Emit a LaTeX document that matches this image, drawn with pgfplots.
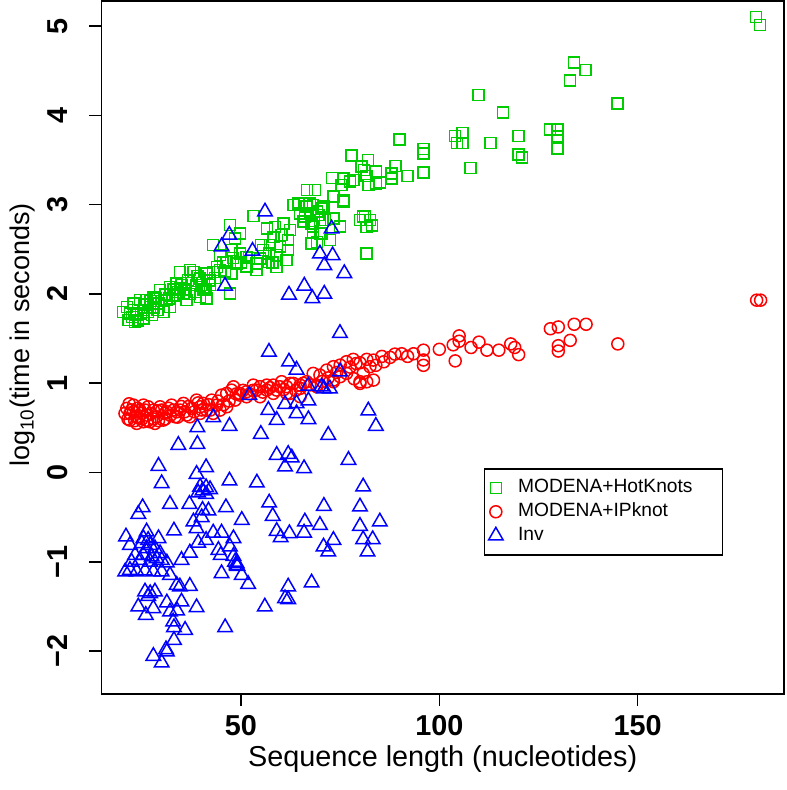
\documentclass[border=0pt]{standalone}
\usepackage{fontspec}
\setmainfont{Liberation Sans}
\usepackage{pgfplots}
\pgfplotsset{compat=1.18}
\definecolor{rgreen}{RGB}{0,205,0}
\definecolor{rred}{RGB}{255,0,0}
\definecolor{rblue}{RGB}{0,0,255}
\begin{document}
\begin{tikzpicture}
\useasboundingbox (0,0) rectangle (393pt,395pt);
\begin{axis}[
  at={(50.65pt,48pt)}, anchor=south west,
  scale only axis, width=341.35pt, height=346.5pt,
  xmin=14.78, xmax=186.9, ymin=-2.48, ymax=5.28,
  xtick={50,100,150}, xticklabels={50,100,150},
  ytick={-2,-1,0,1,2,3,4,5}, yticklabels={−2,−1,0,1,2,3,4,5},
  tick align=outside, major tick length=6pt, tick pos=left,
  tick style={black, line width=0.75pt},
  axis line style={black, line width=0.75pt},
  ticklabel style={font=\fontsize{14.4}{17}\selectfont\bfseries, inner sep=0pt},
  xticklabel style={anchor=north},
  yticklabel style={rotate=90, anchor=south},
  xticklabel shift=4.5pt,
  yticklabel shift=10.5pt,
  xlabel={Sequence length (nucleotides)},
  ylabel={log\textsubscript{10}(time in seconds)},
  xlabel style={font=\fontsize{14.4}{17}\selectfont, at={(axis description cs:0.5,-0.1053)}, anchor=base},
  ylabel style={font=\fontsize{13.5}{16}\selectfont, at={(axis description cs:-0.1054,0.518)}, anchor=base},
  legend image code/.code={\draw[mark repeat=2,mark phase=2,#1] plot coordinates {(0pt,0pt) (5pt,0pt) (10pt,0pt)};},
  legend cell align=left,
  legend style={at={(axis description cs:0.5603,0.3261)}, anchor=north west,
    draw=black, line width=0.75pt, fill=white, inner xsep=2pt, inner ysep=4pt,
    font=\fontsize{9.6}{11}\selectfont,
    nodes={inner sep=0pt, text height=8pt, text depth=3pt},
    column sep=7.5pt, row sep=1pt},
]
\addplot[only marks, mark=square, mark size=2.75pt, color=rgreen, line width=0.75pt] coordinates {
(21.2,1.856)(22.0,1.782)(21.6,1.707)(20.3,1.80)(22.85,1.894)(23.7,1.763)(23.3,1.688)(24.5,1.931)
(25.4,1.819)(25.4,1.726)(26.2,1.931)(27.05,1.856)(27.5,1.763)(27.9,1.968)(29.15,1.894)(29.6,2.043)
(30.4,1.80)(30.8,1.987)(31.25,1.931)(32.1,2.08)(32.1,1.856)(32.9,1.987)(33.8,2.118)(34.6,2.248)
(34.6,2.062)(35.45,2.006)(36.3,1.931)(36.7,2.155)(37.1,2.267)(38.0,2.248)(38.8,2.099)(39.7,2.174)
(39.7,1.968)(40.5,2.043)(41.3,2.23)(41.3,1.95)(42.2,2.099)(43.0,2.547)(43.0,2.248)(44.7,2.435)
(44.7,2.267)(46.4,2.36)(47.2,2.77)(47.2,2.006)(47.6,2.491)(47.6,2.23)(48.5,2.622)(48.9,2.342)
(49.7,2.678)(49.7,2.454)(51.4,2.416)(51.4,2.305)(53.1,2.87)(53.9,2.342)(53.9,2.267)(54.8,2.398)
(55.6,2.491)(56.5,2.734)(56.9,2.36)(57.3,2.547)(58.15,2.64)(58.6,2.752)(59.0,2.435)(59.0,2.30)
(59.8,2.53)(60.2,2.66)(60.7,2.79)(61.5,2.379)(61.9,2.603)(61.9,2.491)(62.4,2.715)(63.2,2.995)
(64.45,3.014)(64.9,2.90)(65.7,2.808)(66.55,2.976)(67.4,2.90)(67.8,2.79)(68.2,2.995)(68.2,2.696)
(69.1,2.584)(69.5,2.883)(70.3,2.958)(70.3,2.678)(71.2,2.827)(72.4,2.603)(73.3,2.846)(75.0,2.752)
(75.8,3.032)(66.6,3.163)(68.7,3.163)(73.3,3.089)(75.8,3.051)(67.4,3.014)(70.8,2.977)(69.1,2.921)
(66.1,2.865)(69.9,2.827)(68.2,2.753)(75.0,2.753)(72.4,2.603)(67.8,2.566)(69.9,2.678)(80.0,2.827)
(81.3,2.865)(83.0,2.764)(81.7,2.454)(80.8,2.864)(82.5,2.827)(81.7,2.752)(73.0,3.30)(75.8,3.294)
(77.5,3.257)(75.4,3.219)(78.3,3.275)(80.4,3.425)(81.0,3.387)(82.0,3.50)(77.9,3.55)(84.0,3.369)
(81.7,3.32)(82.1,3.219)(85.0,3.245)(84.0,3.238)(89.0,3.43)(88.0,3.35)(88.0,3.29)(92.0,3.32)
(90.0,3.73)(96.0,3.62)(96.0,3.57)(96.0,3.36)(103.9,3.77)(105.9,3.80)(104.4,3.69)(105.9,3.69)
(107.9,3.41)(112.96,3.69)(116.0,4.03)(109.9,4.23)(119.9,3.77)(119.9,3.56)(120.9,3.53)(127.9,3.84)
(129.85,3.84)(129.85,3.76)(129.85,3.63)(132.95,4.39)(133.96,4.59)(136.9,4.51)(144.9,4.13)
(179.9,5.10)(180.9,5.01)
(22.5,1.74)(23,1.82)(24,1.70)(24.8,1.78)(25.8,1.88)(26.5,1.80)(27,1.92)(28,1.85)(28.5,1.95)
(29,1.82)(30,1.92)(31,2.0)(31.8,1.95)(33,2.05)(33.5,1.98)(34,2.02)(35,2.10)(36,2.05)(37,2.0)
(37.5,2.12)(38.5,2.02)(39,2.2)(40,2.1)(41,2.05)(42,2.15)(43.5,2.18)(44,2.3)(45.5,2.35)(46,2.25)
(48,2.40)(50,2.35)(52,2.40)(55,2.55)(57,2.45)(58,2.35)
};
\addlegendentry{MODENA+HotKnots\rule{13pt}{0pt}}
\addplot[only marks, mark=o, mark size=3pt, color=rred, line width=0.75pt] coordinates {
(20.75,0.662)(21.2,0.718)(22.0,0.662)(22.0,0.587)(22.9,0.755)(22.9,0.680)(23.7,0.624)(23.7,0.550)
(24.5,0.699)(24.95,0.662)(25.4,0.755)(25.4,0.568)(26.2,0.643)(26.6,0.736)(27.05,0.568)(27.9,0.699)
(28.3,0.550)(28.7,0.624)(29.6,0.736)(30.4,0.587)(30.8,0.662)(31.25,0.680)(32.5,0.755)(33.4,0.624)
(33.8,0.680)(34.6,0.699)(35.5,0.774)(36.3,0.643)(37.1,0.624)(37.6,0.718)(38.8,0.811)(39.7,0.662)
(39.7,0.736)(40.5,0.774)(41.3,0.699)(42.6,0.811)(43.0,0.662)(43.9,0.755)(44.7,0.699)(45.1,0.867)
(46.4,0.736)(46.4,0.886)(47.6,0.923)(48.1,0.960)(48.5,0.811)(49.7,0.886)(49.7,0.867)(51.4,0.848)
(51.4,0.905)(53.1,0.979)(53.9,0.923)(54.8,0.848)(54.8,0.961)(56.5,0.923)(56.5,0.979)(58.15,0.886)
(58.15,0.979)(59.0,0.923)(59.8,0.960)(60.25,1.017)(61.5,0.886)(61.5,0.961)(62.35,0.886)(62.4,0.998)
(63.2,0.998)(64.9,0.942)(64.9,0.979)(64.9,0.849)(66.55,1.017)(68.2,1.110)(69.1,0.961)(69.1,0.979)
(69.9,1.091)(71.6,1.147)(73.3,1.185)(73.3,1.035)(73.3,1.016)(75.0,1.203)(75.0,1.073)(76.6,1.241)
(76.6,1.110)(78.3,1.267)(80.0,1.229)(80.0,1.017)(80.0,0.998)(80.8,1.110)(81.7,1.267)(81.7,1.016)
(82.5,1.185)(83.4,1.259)(83.4,1.035)(87.6,1.289)(88.8,1.326)(84,1.2)(85.5,1.3)(86,1.24)
(21.5,0.60)(21.8,0.77)(22.4,0.70)(23.2,0.58)(23.9,0.72)(24.2,0.61)(25.0,0.60)(25.8,0.70)
(26.4,0.58)(27.3,0.66)(28.0,0.60)(28.9,0.69)(29.2,0.58)(30.0,0.70)(30.9,0.60)(31.7,0.72)
(32.2,0.64)(33.0,0.70)(34.0,0.62)(34.9,0.74)(35.8,0.68)(36.8,0.74)(38.2,0.68)(39.2,0.78)
(40.1,0.70)(41.8,0.76)(42.3,0.70)(44.2,0.80)(45.6,0.76)(47.0,0.80)(48.8,0.88)(50.5,0.92)
(52.2,0.88)(53.0,0.92)(55.5,0.90)(57.3,0.95)(60.8,0.93)(63.8,0.92)(65.7,1.00)(67.3,0.98)
(70.5,1.02)(72.0,1.06)(74.1,1.12)(77.5,1.18)(79.0,1.22)(78.5,1.05)
(90.5,1.33)(92,1.30)(93.5,1.33)(96,1.37)(96,1.26)(96,1.20)(100,1.38)(103.5,1.43)(105,1.53)
(105,1.47)(104,1.25)(108,1.40)(110,1.46)(112,1.37)(115,1.37)(118,1.44)(119,1.40)(120,1.32)
(128,1.61)(130,1.63)(130,1.42)(130,1.36)(133,1.48)(134,1.66)(137,1.66)(145,1.44)(180,1.93)(181,1.93)
};
\addlegendentry{MODENA+IPknot}
\addplot[only marks, mark=triangle, mark size=4.2pt, color=rblue, line width=0.75pt] coordinates {
(56.05,2.92)(47.05,2.66)(45.1,2.53)(52.9,2.48)(72.85,2.73)(69.9,2.45)(73.1,2.43)(71.0,2.32)
(76.05,2.23)(45.96,2.09)(65.96,2.09)(62.1,1.99)(68.0,1.95)(71.0,2.00)(74.95,1.56)(57.05,1.35)
(62.1,1.24)(64.0,1.15)(74.95,1.13)(66.95,0.97)(70.3,0.96)(70.9,0.94)(72.4,0.94)
(52.1,0.867)(56.9,0.699)(59.0,0.587)(61.1,0.766)(64.0,0.662)(64.0,0.774)(67.0,0.804)(67.0,0.595)
(82.1,0.692)(84.0,0.520)(43.0,0.617)(47.1,0.520)(39.0,0.505)(55.0,0.430)(72.0,0.419)(34.2,0.307)
(39.0,0.318)(77.1,0.139)(59.0,0.195)(61.9,0.206)(62.8,0.165)(61.1,0.065)(65.9,0.046)(29.2,0.072)
(41.2,0.057)(38.8,-0.018)(30.0,-0.122)(39.7,-0.16)(41.2,-0.167)(42.2,-0.189)(40.3,-0.204)
(39.2,-0.227)(41.2,-0.242)(47.1,-0.092)(54.0,-0.115)(80.8,-0.159)(25.2,-0.391)(24.1,-0.466)
(32.1,-0.354)(37.0,-0.354)(40.3,-0.421)(41.8,-0.428)(46.2,-0.391)(57.1,-0.339)(70.9,-0.376)
(80.0,-0.383)(58.0,-0.488)(50.2,-0.533)(38.0,-0.551)(40.1,-0.503)(33.1,-0.652)(38.8,-0.626)
(43.0,-0.675)(45.1,-0.675)(48.1,-0.738)(41.2,-0.757)(39.2,-0.787)(59.0,-0.656)(62.2,-0.682)
(60.0,-0.727)(66.1,-0.551)(65.9,-0.675)(69.9,-0.589)(73.3,-0.757)(70.8,-0.831)(72.0,-0.887)
(80.0,-0.600)(85.0,-0.551)(80.8,-0.749)(83.2,-0.749)(81.9,-0.887)(21.0,-0.719)(22.0,-0.813)
(26.2,-0.663)(25.4,-0.738)(26.6,-0.757)(25.0,-0.794)(27.1,-0.813)(26.2,-0.850)(28.3,-0.850)
(29.2,-0.738)(29.6,-0.906)(27.5,-0.943)(25.4,-0.925)(23.3,-0.925)(22.4,-1.00)(24.5,-0.981)
(27.1,-1.00)(28.7,-0.962)(30.0,-0.981)(31.3,-1.010)(20.8,-1.111)(22.0,-1.093)(23.7,-1.111)
(25.8,-1.100)(27.9,-1.111)(30.0,-1.111)(35.0,-0.981)(37.1,-0.899)(44.3,-0.869)(44.9,-0.925)
(47.2,-0.831)(48.1,-0.936)(48.9,-1.018)(49.1,-1.048)(45.1,-1.130)(50.2,-1.149)(32.1,-1.149)
(33.8,-1.261)(34.6,-1.279)(37.1,-1.272)(51.8,-1.250)(61.9,-1.279)(67.8,-1.234)(61.1,-1.410)
(61.9,-1.421)(56.0,-1.503)(25.8,-1.335)(27.1,-1.354)(28.3,-1.335)(26.6,-1.384)(24.1,-1.503)
(27.9,-1.522)(26.0,-1.597)(31.3,-1.458)(32.1,-1.559)(35.0,-1.447)(33.9,-1.548)(38.8,-1.511)
(32.9,-1.671)(33.1,-1.735)(35.9,-1.764)(33.1,-1.877)(31.1,-1.981)(31.3,-2.007)(27.9,-2.056)
(30.0,-2.130)(46.0,-1.735)(48.5,-1.00)(48.9,-1.04)
};
\addlegendentry{Inv}
\end{axis}
\end{tikzpicture}
\end{document}
